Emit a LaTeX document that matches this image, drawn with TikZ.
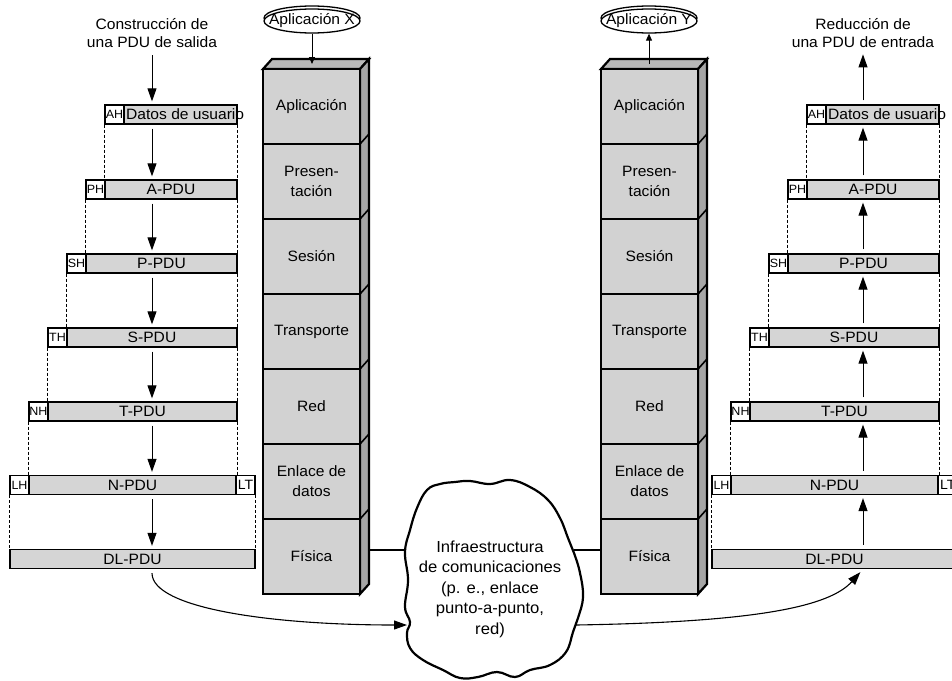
\documentclass[tikz,border=0pt]{standalone}
\usepackage{fontspec}
\setmainfont{Liberation Sans}[FakeStretch=1.04]
\usetikzlibrary{arrows.meta,shapes.geometric}
\newcommand\fmain{\fontsize{15}{20}\selectfont}
\newcommand\fhdr{\fontsize{12}{13}\selectfont}
\newcommand\fcloud{\fontsize{16}{20.5}\selectfont}
\newcommand\ftitle{\fontsize{15}{18.5}\selectfont}
\tikzset{
  pdu/.style={draw, line width=1.3pt, fill=gray!33, inner sep=0pt, minimum height=19pt, font=\fmain},
  hdr/.style={draw, line width=1.3pt, fill=white, inner sep=0pt, minimum height=19pt, minimum width=19pt, font=\fhdr},
  layer/.style={draw, line width=2.5pt, fill=gray!35, inner sep=0pt, minimum width=97pt, minimum height=75pt, align=center, font=\fmain},
  guide/.style={line width=1.1pt, dash pattern=on 3pt off 2pt},
  flow/.style={line width=1pt, -{Triangle[length=13pt,width=9pt]}, shorten <=4pt, shorten >=3pt},
  small/.style={line width=1pt, -{Triangle[length=7pt,width=6pt]}},
  link/.style={line width=1.6pt},
  appell/.style={ellipse, draw, line width=1.3pt, fill=white, minimum width=96pt, minimum height=24pt, inner sep=0pt}
}
\begin{document}
\begin{tikzpicture}[x=1pt,y=-1pt]
\useasboundingbox (0,0) rectangle (952,680);
\clip (0,0) rectangle (952,680);

% ---------- left PDU column ----------
\node[font=\ftitle, align=center] (tL) at (152,33) {Construcción de\\una PDU de salida};
\coordinate (axL) at (152,0);

\node[hdr] (ahL) at (114.5,114.5) {AH};
\node[pdu, minimum width=113pt] (datL) at (180.5,114.5) {};
\node[font=\fmain, anchor=west, inner sep=0pt] (datLt) at (126,114.5) {Datos de usuario};

\node[hdr] (phL) at (95.5,189.5) {PH};
\node[pdu, minimum width=132pt] (apL) at (171,189.5) {A-PDU};

\node[hdr] (shL) at (76.5,263.5) {SH};
\node[pdu, minimum width=151pt] (ppL) at (161.5,263.5) {P-PDU};

\node[hdr] (thL) at (57.5,337.5) {TH};
\node[pdu, minimum width=170pt] (spL) at (152,337.5) {S-PDU};

\node[hdr] (nhL) at (38.5,411.5) {NH};
\node[pdu, minimum width=189pt] (tpL) at (142.5,411.5) {T-PDU};

\node[hdr] (lhL) at (19.5,485) {LH};
\node[pdu, minimum width=207pt] (npL) at (132.5,485) {N-PDU};
\node[hdr, font=\fontsize{13.5}{14}\selectfont] (ltL) at (245.5,485) {LT};

\node[pdu, minimum width=245pt] (dlL) at (132.5,559) {DL-PDU};

\draw[guide] (ahL.south west) -- (ahL.south west |- apL.north);
\draw[guide] (datL.south east) -- (datL.south east |- apL.north);
\draw[guide] (phL.south west) -- (phL.south west |- ppL.north);
\draw[guide] (apL.south east) -- (apL.south east |- ppL.north);
\draw[guide] (shL.south west) -- (shL.south west |- spL.north);
\draw[guide] (ppL.south east) -- (ppL.south east |- spL.north);
\draw[guide] (thL.south west) -- (thL.south west |- tpL.north);
\draw[guide] (spL.south east) -- (spL.south east |- tpL.north);
\draw[guide] (nhL.south west) -- (nhL.south west |- npL.north);
\draw[guide] (tpL.south east) -- (tpL.south east |- npL.north);
\draw[guide] (lhL.south west) -- (lhL.south west |- dlL.north);
\draw[guide] (ltL.south east) -- (ltL.south east |- dlL.north);

\draw[flow] (tL.south -| axL) -- (ahL.north -| axL);
\draw[flow] (datL.south -| axL) -- (apL.north -| axL);
\draw[flow] (apL.south -| axL) -- (ppL.north -| axL);
\draw[flow] (ppL.south -| axL) -- (spL.north -| axL);
\draw[flow] (spL.south -| axL) -- (tpL.north -| axL);
\draw[flow] (tpL.south -| axL) -- (npL.north -| axL);
\draw[flow] (npL.south -| axL) -- (dlL.north -| axL);

% ---------- right PDU column ----------
\node[font=\ftitle, align=center] (tR) at (863,33) {Reducción de\\una PDU de entrada};
\coordinate (axR) at (863,0);

\node[hdr] (ahR) at (816.5,114.5) {AH};
\node[pdu, minimum width=113pt] (datR) at (882.5,114.5) {};
\node[font=\fmain, anchor=west, inner sep=0pt] (datRt) at (828,114.5) {Datos de usuario};

\node[hdr] (phR) at (797.5,189.5) {PH};
\node[pdu, minimum width=132pt] (apR) at (873,189.5) {A-PDU};

\node[hdr] (shR) at (778.5,263.5) {SH};
\node[pdu, minimum width=151pt] (ppR) at (863.5,263.5) {P-PDU};

\node[hdr] (thR) at (759.5,337.5) {TH};
\node[pdu, minimum width=170pt] (spR) at (854,337.5) {S-PDU};

\node[hdr] (nhR) at (740.5,411.5) {NH};
\node[pdu, minimum width=189pt] (tpR) at (844.5,411.5) {T-PDU};

\node[hdr] (lhR) at (721.5,485) {LH};
\node[pdu, minimum width=207pt] (npR) at (834.5,485) {N-PDU};
\node[draw, line width=1.3pt, fill=white, minimum width=19pt, minimum height=19pt, inner sep=0pt] (ltR) at (947.5,485) {};
\node[font=\fontsize{13.5}{14}\selectfont, anchor=west, inner sep=0pt] (ltRt) at (940,485) {LT};

\node[pdu, minimum width=245pt] (dlR) at (834.5,559) {DL-PDU};

\draw[guide] (ahR.south west) -- (ahR.south west |- apR.north);
\draw[guide] (datR.south east) -- (datR.south east |- apR.north);
\draw[guide] (phR.south west) -- (phR.south west |- ppR.north);
\draw[guide] (apR.south east) -- (apR.south east |- ppR.north);
\draw[guide] (shR.south west) -- (shR.south west |- spR.north);
\draw[guide] (ppR.south east) -- (ppR.south east |- spR.north);
\draw[guide] (thR.south west) -- (thR.south west |- tpR.north);
\draw[guide] (spR.south east) -- (spR.south east |- tpR.north);
\draw[guide] (nhR.south west) -- (nhR.south west |- npR.north);
\draw[guide] (tpR.south east) -- (tpR.south east |- npR.north);
\draw[guide] (lhR.south west) -- (lhR.south west |- dlR.north);

\draw[flow] (ahR.north -| axR) -- (tR.south -| axR);
\draw[flow] (apR.north -| axR) -- (datR.south -| axR);
\draw[flow] (ppR.north -| axR) -- (apR.south -| axR);
\draw[flow] (spR.north -| axR) -- (ppR.south -| axR);
\draw[flow] (tpR.north -| axR) -- (spR.south -| axR);
\draw[flow] (npR.north -| axR) -- (tpR.south -| axR);
\draw[flow] (dlR.north -| axR) -- (npR.south -| axR);

% ---------- stacks ----------
\foreach \s/\dx in {X/0,Y/338}{
  \begin{scope}[xshift=\dx pt]
    \filldraw[line width=2.2pt, fill=gray!55] (263,69) -- (272,59) -- (369,59) -- (360,69) -- cycle;
    \filldraw[line width=2.2pt, fill=gray!70] (360,69) -- (369,59) -- (369,584) -- (360,594) -- cycle;
    \foreach \i/\t in {1/Aplicación,2/{Presen-\\tación},3/Sesión,4/Transporte,5/Red,6/{Enlace de\\datos},7/Física}
      \node[layer] (\s\i) at (311.5,{31.5+75*\i}) {\t};
    \foreach \i in {1,...,6}
      \draw[line width=1.6pt] (360,{69+75*\i}) -- ++(9,-10);
  \end{scope}
}

% application ellipses
\node[appell] (appXb) at (312,18) {};
\node[appell] (appX) at (312,21) {};
\node[font=\fmain, inner sep=0pt] (appXt) at (312,21) {Aplicación X};
\coordinate (xtop) at (312,64);
\draw[small] (appX.south) -- (xtop);

\node[appell] (appYb) at (649,18) {};
\node[appell] (appY) at (649,21) {};
\node[font=\fmain, inner sep=0pt] (appYt) at (649,21) {Aplicación Y};
\coordinate (ytop) at (649,64);
\draw[small] (ytop) -- (appY.south);

% ---------- cloud ----------
\draw[line width=2.2pt, fill=white] plot[smooth cycle, tension=0.7] coordinates {
 (427,490) (440,484) (455,482) (470,481) (490,484) (510,480) (530,487) (548,500)
 (560,518) (568,538) (574,553) (580,573) (583,597) (578,618) (573,632) (566,652)
 (550,665) (530,670) (515,677) (497,672) (478,677) (460,678) (443,670) (423,660)
 (410,648) (407,633) (410,622) (405,607) (408,580) (405,552) (410,530) (417,508)};
\node[font=\fcloud, align=center] (cloudT) at (490,589)
  {Infraestructura\\de comunicaciones\\(p. e., enlace\\punto-a-punto,\\red)};
\coordinate (cL) at (406,550);
\coordinate (cR) at (574,550);
\coordinate (cIn) at (407,625);
\coordinate (cOut) at (576,625);

\draw[link] ([xshift=9pt]X7.east |- cL) -- (cL);
\draw[link] (cR) -- (Y7.west |- cR);

\draw[line width=1.1pt, -{Triangle[length=13pt,width=9pt]}, shorten <=4pt]
  (dlL.south -| axL) .. controls (152,608) and (270,625) .. (cIn);
\draw[line width=1.1pt, -{Triangle[length=13pt,width=9pt]}, shorten >=4pt]
  (cOut) .. controls (760,622) and (830,606) .. (dlR.south -| axR);
\end{tikzpicture}
\end{document}
